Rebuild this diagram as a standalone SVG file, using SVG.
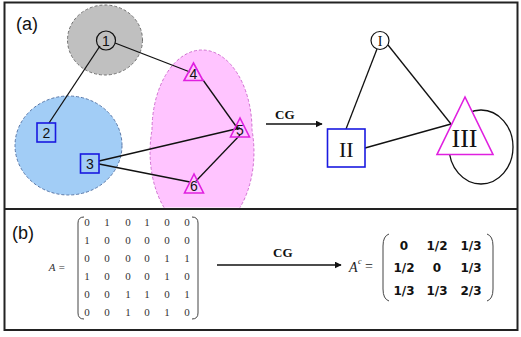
<svg xmlns="http://www.w3.org/2000/svg" width="521" height="337" viewBox="0 0 521 337">
<defs>
<style>
.frame{fill:none;stroke:#222;stroke-width:2}
.edge{stroke:#111;stroke-width:1.3;fill:none}
.sq{fill:none;stroke:#1a1ae0;stroke-width:1.6}
.tri{fill:none;stroke:#e020e0;stroke-width:1.6}
.circ{fill:none;stroke:#111;stroke-width:1.2}
.num{font-family:"Liberation Sans",Arial,sans-serif;font-size:14px;fill:#111;text-anchor:middle}
.rom{font-family:"Liberation Serif","Times New Roman",serif;fill:#111;text-anchor:middle}
.lab{font-family:"Liberation Sans",Arial,sans-serif;font-size:18px;fill:#111}
.cg{font-family:"Liberation Serif","Times New Roman",serif;font-weight:bold;font-size:13px;fill:#111}
.m{font-family:"Liberation Serif","Times New Roman",serif;font-size:11px;fill:#333;text-anchor:middle}
.mc{font-family:"DejaVu Sans",Verdana,sans-serif;font-weight:bold;font-size:12px;fill:#111;text-anchor:middle}
.par{fill:none;stroke:#444;stroke-width:1}
</style>
<marker id="ah" viewBox="0 0 10 10" refX="9" refY="5" markerWidth="7" markerHeight="7" orient="auto" markerUnits="userSpaceOnUse">
<path d="M0,0 L10,5 L0,10 z" fill="#111"/>
</marker>
</defs>
<rect width="521" height="337" fill="#fff"/>
<rect class="frame" x="4.5" y="2.5" width="513" height="327.5"/>
<line class="frame" x1="4" y1="209" x2="518" y2="209"/>

<g id="clusters">
<ellipse cx="105" cy="40" rx="37.5" ry="35" fill="#c0c0c0" stroke="#707070" stroke-width="1" stroke-dasharray="3,2"/>
<ellipse cx="68.5" cy="145.5" rx="53.5" ry="49.5" fill="#a2cdf6" stroke="#5a78a8" stroke-width="1" stroke-dasharray="3,2"/>
<path d="M152,130 A50,80 0 0 1 252,130 A50,80 0 0 1 240,207.5 L164,207.5 A50,80 0 0 1 152,130 z" fill="#ffc4ff"/>
<path d="M164,207.5 A50,80 0 0 1 152,130 A50,80 0 0 1 252,130 A50,80 0 0 1 240,207.5" fill="none" stroke="#d070d0" stroke-width="1" stroke-dasharray="3,2"/>
</g>

<text class="lab" x="16" y="30">(a)</text>
<text class="lab" x="12" y="239">(b)</text>

<g id="connectors">
<line class="edge" x1="100" y1="46" x2="49" y2="123"/>
<line class="edge" x1="115" y1="43" x2="190" y2="72"/>
<line class="edge" x1="203" y1="80" x2="238" y2="129"/>
<line class="edge" x1="99" y1="161" x2="240" y2="128"/>
<line class="edge" x1="99" y1="164" x2="190" y2="182"/>
<line class="edge" x1="240" y1="135" x2="196" y2="181"/>
<line class="edge" x1="377" y1="49" x2="346" y2="129"/>
<line class="edge" x1="388" y1="45" x2="451" y2="124"/>
<line class="edge" x1="365" y1="148" x2="451" y2="124"/>
<ellipse class="edge" cx="481" cy="147" rx="32" ry="37"/>
<line class="edge" x1="266" y1="124" x2="322" y2="124" stroke-width="2" marker-end="url(#ah)"/>
<line class="edge" x1="217" y1="265" x2="341" y2="265" stroke-width="2" marker-end="url(#ah)"/>
</g>

<g id="n1"><circle class="circ" cx="106" cy="40.5" r="9.5"/><text class="num" x="106" y="45.5">1</text></g>
<g id="n2"><rect class="sq" x="37" y="123" width="18.5" height="19"/><text class="num" x="46.3" y="138">2</text></g>
<g id="n3"><rect class="sq" x="80.5" y="154" width="18.5" height="19"/><text class="num" x="89.8" y="169">3</text></g>
<g id="n4"><polygon class="tri" points="193.5,63 184,80.5 203,80.5"/><text class="num" x="193.5" y="79">4</text></g>
<g id="n5"><polygon class="tri" points="240,118 230.5,137 249.5,137"/><text class="num" x="240" y="135">5</text></g>
<g id="n6"><polygon class="tri" points="194,174 184.5,193 203.5,193"/><text class="num" x="194" y="191">6</text></g>

<text class="cg" x="275" y="119">CG</text>

<g id="nI"><circle class="circ" cx="380" cy="40.5" r="9"/><text class="rom" x="380" y="45.5" font-size="14">I</text></g>
<g id="nII"><rect class="sq" x="327.5" y="129" width="37.5" height="38" style="fill:#fff"/><text class="rom" x="346.3" y="157" font-size="22">II</text></g>
<g id="nIII"><polygon class="tri" points="465,97 437,154.5 493,154.5" style="fill:#fff"/><text class="rom" x="464.5" y="147" font-size="26">III</text></g>

<g id="matA">
<text x="57" y="271" font-family="'Liberation Serif','Times New Roman',serif" font-style="italic" font-size="11" fill="#333" text-anchor="middle">A =</text>
<path class="par" d="M84,217 Q78,217 78,223 L78,313 Q78,319 84,319"/>
<path class="par" d="M192,217 Q198,217 198,223 L198,313 Q198,319 192,319"/>
<g class="m">
<text x="87" y="226">0</text><text x="107" y="226">1</text><text x="128" y="226">0</text><text x="147" y="226">1</text><text x="167" y="226">0</text><text x="187" y="226">0</text>
<text x="87" y="244">1</text><text x="107" y="244">0</text><text x="128" y="244">0</text><text x="147" y="244">0</text><text x="167" y="244">0</text><text x="187" y="244">0</text>
<text x="87" y="262">0</text><text x="107" y="262">0</text><text x="128" y="262">0</text><text x="147" y="262">0</text><text x="167" y="262">1</text><text x="187" y="262">1</text>
<text x="87" y="280">1</text><text x="107" y="280">0</text><text x="128" y="280">0</text><text x="147" y="280">0</text><text x="167" y="280">1</text><text x="187" y="280">0</text>
<text x="87" y="298">0</text><text x="107" y="298">0</text><text x="128" y="298">1</text><text x="147" y="298">1</text><text x="167" y="298">0</text><text x="187" y="298">1</text>
<text x="87" y="316">0</text><text x="107" y="316">0</text><text x="128" y="316">1</text><text x="147" y="316">0</text><text x="167" y="316">1</text><text x="187" y="316">0</text>
</g>
</g>

<text class="cg" x="273" y="257">CG</text>

<g id="matAc">
<text x="349" y="272" font-family="'Liberation Serif','Times New Roman',serif" font-style="italic" font-size="14" fill="#222">A</text>
<text x="358" y="264" font-family="'Liberation Serif','Times New Roman',serif" font-style="italic" font-size="8" fill="#222">c</text>
<text x="365" y="271" font-family="'Liberation Serif','Times New Roman',serif" font-size="14" fill="#222">=</text>
<path class="par" d="M389,234 Q383,236 383,246 L383,289 Q383,299 389,301" stroke-width="1.3"/>
<path class="par" d="M487,234 Q493,236 493,246 L493,289 Q493,299 487,301" stroke-width="1.3"/>
<g class="mc">
<text x="404" y="250">0</text><text x="437" y="250">1/2</text><text x="471" y="250">1/3</text>
<text x="404" y="272">1/2</text><text x="437" y="272">0</text><text x="471" y="272">1/3</text>
<text x="404" y="295">1/3</text><text x="437" y="295">1/3</text><text x="471" y="295">2/3</text>
</g>
</g>
</svg>
